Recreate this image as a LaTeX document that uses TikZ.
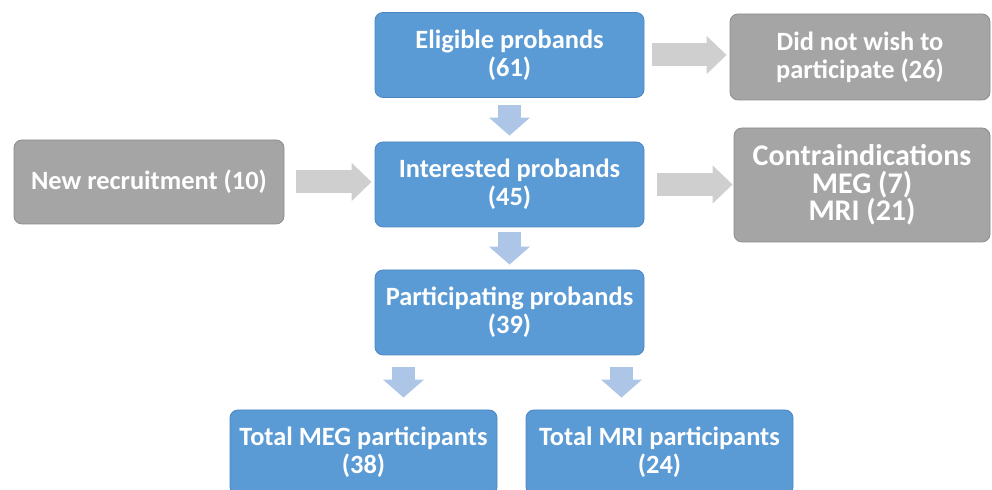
\documentclass[tikz,border=0pt]{standalone}
\usepackage{fontspec}
\setmainfont{Carlito}
\usetikzlibrary{arrows.meta, calc}

\definecolor{boxblue}{HTML}{5B9BD5}
\definecolor{boxbluedark}{HTML}{4A87C2}
\definecolor{boxgray}{HTML}{A5A5A5}
\definecolor{boxgraydark}{HTML}{8C8C8C}
\definecolor{arrgray}{HTML}{D0CFCF}
\definecolor{arrblue}{HTML}{ADC5E7}

\begin{document}
\begin{tikzpicture}[x=0.5pt,y=-0.5pt,
  bluebox/.style={draw=boxbluedark,fill=boxblue,rounded corners=4pt,text=white,align=center,
    font=\fontsize{13.2}{14}\selectfont\bfseries,inner sep=0pt,minimum width=134.5pt,minimum height=42.5pt},
  graybox/.style={bluebox,draw=boxgraydark,fill=boxgray},
  grayarr/.style={arrgray,line width=11.5pt,-{Triangle[length=10pt,width=18.5pt]}},
  bluearr/.style={arrblue,line width=11.5pt,-{Triangle[length=9pt,width=20pt]}}]
\useasboundingbox (0,0) rectangle (992,490);
\clip (0,0) rectangle (992,490);

\node[bluebox] (eli) at (509.5,55) {Eligible probands\\(61)};
\node[bluebox] (int) at (509.5,184.5) {Interested probands\\(45)};
\node[bluebox] (par) at (509.5,312.5) {Participating probands\\(39)};
\node[graybox,minimum width=130pt,minimum height=43pt] (dnw) at (860,57) {Did not wish to\\participate (26)};
\node[graybox,minimum width=128pt,minimum height=57pt,font=\fontsize{15}{13.8}\selectfont\bfseries] (con) at (862,185) {Contraindications\\MEG (7)\\MRI (21)};
\node[graybox,minimum width=135pt,minimum height=42pt] (new) at (149,182) {New recruitment (10)};
\node[bluebox,minimum width=133.5pt] (meg) at (363.5,452.5) {Total MEG participants\\(38)};
\node[bluebox,minimum width=133.5pt] (mri) at (659.5,452.5) {Total MRI participants\\(24)};

% side arrows
\draw[grayarr,shorten <=4pt,shorten >=1.5pt] (eli.east) -- (eli.east -| dnw.west);
\draw[grayarr,shorten <=6pt,shorten >=1.5pt] (new.east) -- (new.east -| int.west);
\draw[grayarr,shorten <=6.5pt,shorten >=0.5pt] (int.east) -- (int.east -| con.west);

% down arrows
\path (par.south) ++(-106,0) coordinate (pmeg);
\path (par.south) ++(112,0) coordinate (pmri);
\draw[bluearr,shorten <=3.5pt,shorten >=3pt] (eli.south) -- (int.north);
\draw[bluearr,shorten <=2.5pt,shorten >=2.5pt] (int.south) -- (par.north);
\draw[bluearr,shorten <=6pt,shorten >=6pt] (pmeg) -- (pmeg |- meg.north);
\draw[bluearr,shorten <=6pt,shorten >=6pt] (pmri) -- (pmri |- mri.north);
\end{tikzpicture}
\end{document}
